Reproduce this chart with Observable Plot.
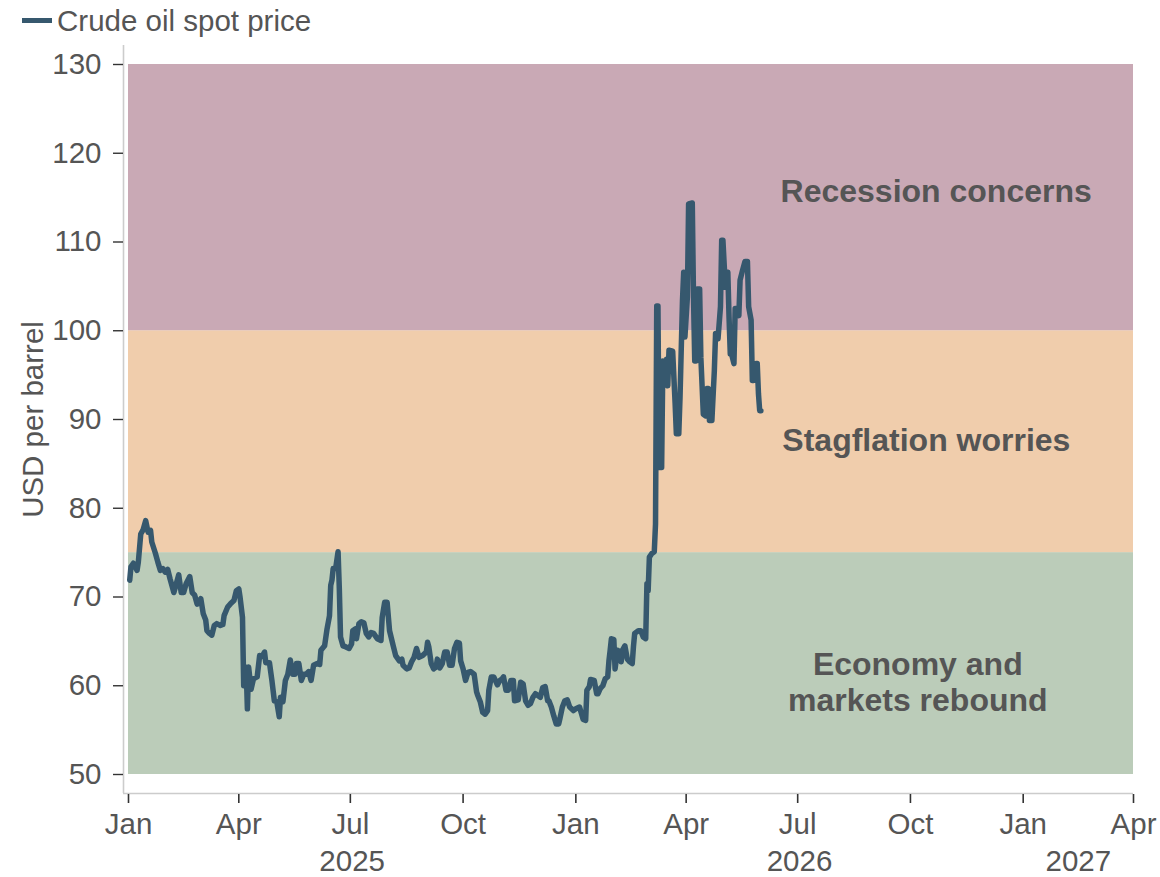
<!DOCTYPE html>
<html>
<head>
<meta charset="utf-8">
<script src="https://cdn.jsdelivr.net/npm/d3@7"></script>
<script src="https://cdn.jsdelivr.net/npm/@observablehq/plot@0.6"></script>
<style>
  body { margin: 0; background: #fff; font-family: "Liberation Sans", Arial, sans-serif; }
  #legend { position: relative; height: 40px; width: 1160px; }
  #legend .sw { position: absolute; left: 22px; top: 18px; width: 30px; height: 5px; }
  #legend .lbl { position: absolute; left: 57px; top: 1px; height: 40px; line-height: 40px; font-size: 29.5px; color: #555; white-space: nowrap; }
  #chart svg { overflow: visible; display: block; }
</style>
</head>
<body>
<div id="legend"></div>
<div id="chart"></div>
<script>
// ---------------- data ----------------
const seriesName = "Crude oil spot price";
const yTitle = "USD per barrel";

const dates = [
"2025-01-02","2025-01-03","2025-01-05","2025-01-08","2025-01-09","2025-01-11","2025-01-13","2025-01-15","2025-01-17","2025-01-19",
"2025-01-20","2025-01-23","2025-01-25","2025-01-27","2025-01-29","2025-01-31","2025-02-02","2025-02-04","2025-02-07","2025-02-09",
"2025-02-11","2025-02-13","2025-02-15","2025-02-17","2025-02-20","2025-02-22","2025-02-24","2025-02-26","2025-02-28","2025-03-01",
"2025-03-03","2025-03-05","2025-03-06","2025-03-08","2025-03-10","2025-03-12","2025-03-14","2025-03-17","2025-03-19","2025-03-20",
"2025-03-23","2025-03-25","2025-03-28","2025-03-30","2025-04-01","2025-04-02","2025-04-04","2025-04-05","2025-04-07","2025-04-08",
"2025-04-09","2025-04-11","2025-04-13","2025-04-16","2025-04-18","2025-04-20","2025-04-22","2025-04-23","2025-04-26","2025-04-28",
"2025-04-30","2025-05-02","2025-05-04","2025-05-05","2025-05-07","2025-05-09","2025-05-11","2025-05-13","2025-05-15","2025-05-17",
"2025-05-18","2025-05-20","2025-05-22","2025-05-24","2025-05-26","2025-05-28","2025-05-30","2025-06-01","2025-06-04","2025-06-06",
"2025-06-07","2025-06-10","2025-06-12","2025-06-14","2025-06-15","2025-06-16","2025-06-17","2025-06-19","2025-06-21","2025-06-22",
"2025-06-23","2025-06-25","2025-06-27","2025-06-30","2025-07-02","2025-07-03","2025-07-05","2025-07-06","2025-07-08","2025-07-10",
"2025-07-12","2025-07-14","2025-07-16","2025-07-18","2025-07-20","2025-07-23","2025-07-26","2025-07-27","2025-07-29","2025-07-31",
"2025-08-02","2025-08-05","2025-08-07","2025-08-10","2025-08-12","2025-08-13","2025-08-16","2025-08-18","2025-08-20","2025-08-22",
"2025-08-24","2025-08-26","2025-08-29","2025-09-01","2025-09-02","2025-09-03","2025-09-05","2025-09-07","2025-09-09","2025-09-10",
"2025-09-12","2025-09-14","2025-09-16","2025-09-18","2025-09-20","2025-09-22","2025-09-24","2025-09-26","2025-09-28","2025-09-29",
"2025-10-01","2025-10-03","2025-10-05","2025-10-07","2025-10-10","2025-10-12","2025-10-13","2025-10-15","2025-10-17","2025-10-19",
"2025-10-21","2025-10-22","2025-10-24","2025-10-26","2025-10-29","2025-10-31","2025-11-02","2025-11-03","2025-11-05","2025-11-07",
"2025-11-09","2025-11-11","2025-11-12","2025-11-15","2025-11-17","2025-11-19","2025-11-21","2025-11-23","2025-11-25","2025-11-27",
"2025-11-29","2025-12-01","2025-12-03","2025-12-05","2025-12-07","2025-12-09","2025-12-10","2025-12-12","2025-12-14","2025-12-16",
"2025-12-18","2025-12-19","2025-12-21","2025-12-23","2025-12-25","2025-12-27","2025-12-30","2026-01-01","2026-01-04","2026-01-07",
"2026-01-09","2026-01-10","2026-01-12","2026-01-13","2026-01-16","2026-01-18","2026-01-19","2026-01-21","2026-01-23","2026-01-25",
"2026-01-27","2026-01-28","2026-01-29","2026-01-30","2026-02-01","2026-02-02","2026-02-04","2026-02-06","2026-02-07","2026-02-08",
"2026-02-10","2026-02-12","2026-02-14","2026-02-16","2026-02-17","2026-02-18","2026-02-21","2026-02-23","2026-02-25","2026-02-27",
"2026-02-28","2026-03-01","2026-03-02","2026-03-04","2026-03-06","2026-03-07","2026-03-08","2026-03-09","2026-03-10","2026-03-12",
"2026-03-13","2026-03-14","2026-03-16","2026-03-17","2026-03-18","2026-03-21","2026-03-23","2026-03-24","2026-03-26","2026-03-27",
"2026-03-29","2026-03-30","2026-03-31","2026-04-02","2026-04-03","2026-04-06","2026-04-07","2026-04-08","2026-04-09","2026-04-10",
"2026-04-12","2026-04-13","2026-04-15","2026-04-17","2026-04-18","2026-04-19","2026-04-20","2026-04-22","2026-04-24","2026-04-25",
"2026-04-26","2026-04-27","2026-04-29","2026-04-30","2026-05-01","2026-05-03","2026-05-05","2026-05-06","2026-05-07","2026-05-08",
"2026-05-10","2026-05-11","2026-05-13","2026-05-14","2026-05-15","2026-05-17","2026-05-19","2026-05-21","2026-05-22","2026-05-24",
"2026-05-25","2026-05-26","2026-05-28","2026-05-29","2026-05-30","2026-05-31","2026-06-01"
];

const prices = [
71.9,73.4,73.8,73.0,73.9,77.1,77.6,78.6,77.3,77.5,
76.2,74.9,73.9,73.0,73.2,72.8,73.1,72.0,70.5,71.5,
72.5,70.5,70.5,71.5,72.3,70.5,70.2,69.2,69.6,69.8,
68.1,67.4,66.2,65.9,65.7,66.8,67.0,66.8,66.9,67.9,
68.9,69.2,69.6,70.7,70.9,70.0,67.7,60.0,62.1,57.4,
62.1,59.6,60.8,61.0,63.4,63.3,63.8,62.6,62.6,60.6,
58.3,58.2,56.5,58.7,58.2,60.6,61.3,62.9,61.3,61.3,
62.5,62.5,60.6,61.3,61.3,61.6,60.6,62.3,62.5,62.4,
64.0,64.5,66.4,67.9,71.3,71.9,73.2,73.2,75.1,71.0,
65.5,64.5,64.4,64.2,64.7,66.2,66.4,65.3,67.0,67.2,
67.1,65.9,65.5,66.0,65.9,65.3,65.1,67.7,69.4,69.4,
66.2,64.5,63.4,62.8,63.0,62.3,61.9,62.0,62.7,63.2,
64.2,63.2,63.4,63.8,64.9,64.4,62.5,61.9,62.1,63.0,
62.0,62.5,63.8,63.8,62.3,62.3,64.2,64.9,64.8,62.8,
61.9,60.6,61.5,61.6,61.3,59.3,58.9,58.2,57.0,56.8,
57.2,59.5,61.0,61.0,60.1,60.6,60.8,61.0,59.5,59.5,
60.6,60.6,58.3,58.4,60.4,60.2,58.3,57.8,58.0,58.7,
59.1,58.9,58.7,59.8,59.9,58.3,58.3,57.6,56.6,55.7,
55.7,56.3,57.6,58.3,58.4,57.6,57.2,57.4,57.6,56.2,
56.1,59.5,59.9,60.7,60.6,59.1,59.1,59.7,60.0,60.8,
61.0,62.8,64.0,65.3,65.2,61.9,64.0,63.8,62.7,64.0,
64.5,63.0,62.7,62.5,64.4,65.9,66.2,66.2,65.5,65.3,
71.5,70.7,74.5,74.9,75.1,78.2,102.8,102.8,84.6,84.6,
96.6,94.0,96.8,93.8,97.8,97.7,91.8,88.4,88.4,92.5,
103.4,106.6,99.3,103.8,114.3,114.4,103.8,96.6,96.6,104.7,
104.7,97.0,90.6,90.4,93.5,93.5,89.9,89.9,95.5,99.7,
99.7,99.1,102.7,110.2,110.2,104.9,106.6,101.5,97.4,97.4,
96.3,102.5,102.5,101.7,105.7,106.8,107.8,107.8,102.7,101.2,
94.4,94.4,96.3,96.3,92.9,91.0,91.0
];

// scenario bands (USD per barrel)
const bandNames  = ["Economy and markets rebound", "Stagflation worries", "Recession concerns"];
const bandLows   = [50, 75, 100];
const bandHighs  = [75, 100, 130];
const bandColors = ["#bbccb9", "#f0cdac", "#c9a9b5"];

// band annotations
const noteTexts  = ["Recession concerns", "Stagflation worries", "Economy and\nmarkets rebound"];
const noteDates  = ["2026-10-22", "2026-10-14", "2026-10-07"];
const noteValues = [115.8, 87.75, 60.5];

// axes
const xStart = "2025-01-01";
const xEnd   = "2027-04-01";
const yTicks = [50, 60, 70, 80, 90, 100, 110, 120, 130];
const years  = [2025, 2026, 2027];

// ---------------- build ----------------
const lineColor = "#36586e";
const textColor = "#555555";
const font = '"Liberation Sans", Arial, Helvetica, sans-serif';
const fs = 29.5;

const x0 = new Date(xStart), x1 = new Date(xEnd);
const yLo = yTicks[0], yHi = yTicks[yTicks.length - 1];
const data = dates.map((d, i) => ({date: new Date(d), price: prices[i]}));
const bands = bandNames.map((n, i) => ({name: n, lo: bandLows[i], hi: bandHighs[i], color: bandColors[i]}));
const notes = noteTexts.map((t, i) => ({text: t, date: new Date(noteDates[i]), value: noteValues[i]}));
const xTicks = d3.utcMonth.every(3).range(x0, new Date(+x1 + 1));
const yearData = years.map(y => {
  const a = new Date(Math.max(+x0, Date.UTC(y, 0, 1)));
  const b = new Date(Math.min(+x1, Date.UTC(y + 1, 0, 1)));
  return {label: String(y), mid: new Date((+a + +b) / 2)};
});

// legend
const lg = document.getElementById("legend");
lg.innerHTML = `<div class="sw" style="background:${lineColor}"></div><div class="lbl">${seriesName}</div>`;

const chart = Plot.plot({
  width: 1160,
  height: 837,
  marginLeft: 128,
  marginRight: 27,
  marginTop: 24,
  marginBottom: 103,
  x: {type: "utc", domain: [x0, x1]},
  y: {domain: [yLo, yHi]},
  color: {type: "identity"},
  style: {fontFamily: font, fontSize: fs + "px", color: textColor, background: "transparent", overflow: "visible"},
  marks: [
    Plot.rect(bands, {x1: () => x0, x2: () => x1, y1: "lo", y2: "hi", fill: "color"}),
    // axis lines (offset from the plotting area)
    Plot.ruleX([x0], {y1: yHi, y2: yLo, insetTop: -19, insetBottom: -19, dx: -5, stroke: "#cccccc", strokeWidth: 1.6}),
    Plot.ruleY([yLo], {x1: x0, x2: x1, insetLeft: -5, dy: 19, stroke: "#cccccc", strokeWidth: 1.6}),
    Plot.axisY({ticks: yTicks, tickSize: 10, tickPadding: 12, dx: -5, stroke: "#333333", strokeWidth: 1.4, fill: textColor, fontSize: fs, label: null}),
    Plot.axisX({ticks: xTicks, tickFormat: d3.utcFormat("%b"), tickSize: 9, tickPadding: 10, dy: 20, stroke: "#333333", strokeWidth: 1.6, fill: textColor, fontSize: fs, label: null}),
    Plot.text(yearData, {x: "mid", text: "label", frameAnchor: "bottom", lineAnchor: "top", dy: 76, fill: textColor, fontSize: fs}),
    Plot.text([yTitle], {frameAnchor: "left", textAnchor: "middle", lineAnchor: "middle", rotate: -90, dx: -95, fill: textColor, fontSize: fs}),
    Plot.text(notes, {x: "date", y: "value", text: "text", fontWeight: "bold", fontSize: 32, fill: textColor, lineHeight: 1.13}),
    Plot.line(data, {x: "date", y: "price", stroke: lineColor, strokeWidth: 5.5, strokeLinejoin: "round"})
  ]
});
document.getElementById("chart").appendChild(chart);
</script>
</body>
</html>
